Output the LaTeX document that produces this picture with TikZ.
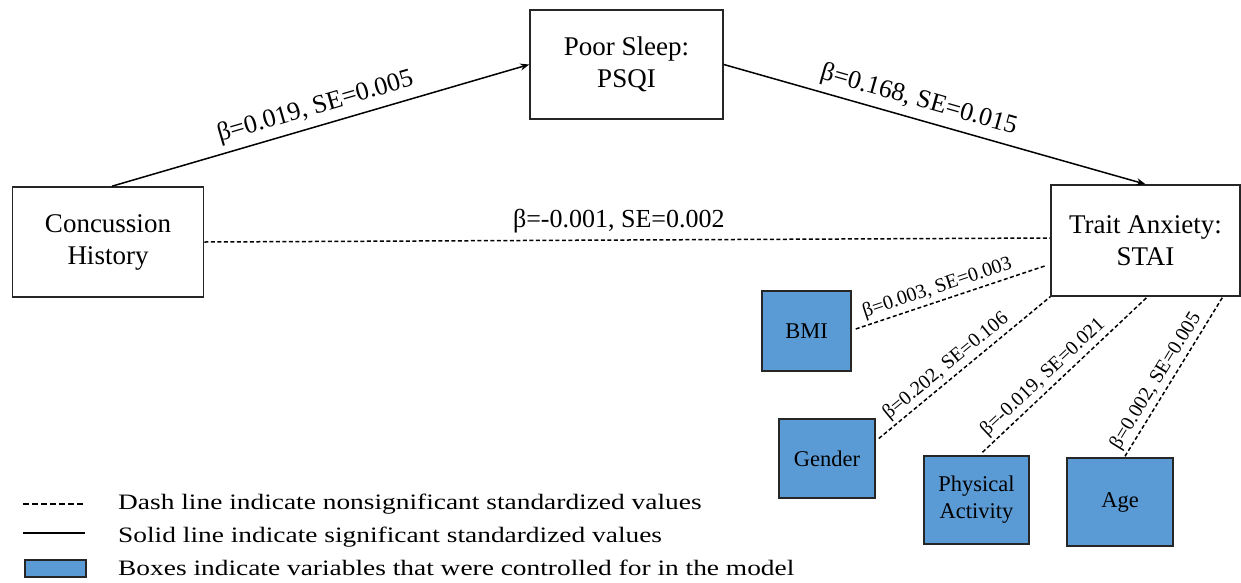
\documentclass[tikz,border=0pt]{standalone}
\usepackage{fontspec}
\setmainfont{Liberation Serif}
\newfontfamily\serfont{Liberation Serif}
\newfontfamily\legendfont[FakeStretch=1.245]{Liberation Serif}
\usetikzlibrary{arrows.meta}
\definecolor{covblue}{HTML}{5B9BD5}
\begin{document}
\begin{tikzpicture}[x=1pt,y=-1pt,
  mainbox/.style={draw=black!85, line width=1.6pt, fill=white, align=center,
    font=\serfont\fontsize{27}{32}\selectfont, inner sep=0pt},
  covbox/.style={draw=black!85, line width=1.5pt, fill=covblue, align=center,
    font=\serfont\fontsize{22.5}{27}\selectfont, inner sep=0pt},
  sigline/.style={line width=1.5pt, -{Stealth[length=9pt,width=7pt]}},
  nsline/.style={line width=1.5pt, dash pattern=on 4pt off 2.5pt},
  biglab/.style={font=\serfont\fontsize{26}{30}\selectfont, inner sep=2pt},
  smalllab/.style={font=\serfont\fontsize{20}{24}\selectfont, inner sep=1pt},
  legtext/.style={anchor=base west, inner sep=0pt, font=\legendfont\fontsize{22}{26}\selectfont}
]
\useasboundingbox (0,0) rectangle (1241,582);

% main boxes
\node[mainbox, minimum width=191pt, minimum height=110pt] (CH) at (108,242) {Concussion\\History};
\node[mainbox, minimum width=193pt, minimum height=109pt] (PS) at (626.5,64.5) {Poor Sleep:\\PSQI};
\node[mainbox, minimum width=189pt, minimum height=111pt] (TA) at (1145.5,240.5) {Trait Anxiety:\\STAI};

% covariate boxes
\node[covbox, minimum width=89pt, minimum height=80pt] (BMI) at (806.5,331) {BMI};
\node[covbox, minimum width=96pt, minimum height=79pt] (GEN) at (827,458.5) {Gender};
\node[covbox, minimum width=105pt, minimum height=88pt] (PA) at (976.5,500) {Physical\\Activity};
\node[covbox, minimum width=106pt, minimum height=88pt] (AGE) at (1120,502) {Age};

% main paths
\draw[sigline] ([shift={(4,0)}]CH.north) -- (PS.west)
  node[biglab, sloped, above=4pt, pos=0.5] {β=0.019, SE=0.005};
\draw[sigline] (PS.east) -- (TA.north)
  node[biglab, sloped, above=4pt, pos=0.45] {β=0.168, SE=0.015};
\draw[nsline] (CH.east) -- ([shift={(0,-2.5)}]TA.west)
  node[biglab, above=4pt, pos=0.49] {β=-0.001, SE=0.002};

% covariate paths
\draw[nsline] ([shift={(4,-2)}]BMI.east) -- ([shift={(-4,25)}]TA.west)
  node[smalllab, sloped, above=2pt, pos=0.45] {β=0.003, SE=0.003};
\draw[nsline] ([shift={(3,-20)}]GEN.east) -- (TA.south west)
  node[smalllab, sloped, above=2pt, pos=0.44] {β=0.202, SE=0.106};
\draw[nsline] ([shift={(6,-3)}]PA.north) -- ([shift={(2,0)}]TA.south)
  node[smalllab, sloped, above=2pt, pos=0.42] {β=-0.019, SE=0.021};
\draw[nsline] ([shift={(5,-1)}]AGE.north) -- ([shift={(-18,0)}]TA.south east)
  node[smalllab, sloped, above=2pt, pos=0.43] {β=0.002, SE=0.005};

% legend
\coordinate (d1) at (23,504);
\coordinate (d2) at (85,504);
\coordinate (s1) at (23,533);
\coordinate (s2) at (85,533);
\draw[line width=1.2pt, dash pattern=on 5.5pt off 3.5pt] (d1) -- (d2);
\draw[line width=1.4pt] (s1) -- (s2);
\node[draw=black!85, line width=1.4pt, fill=covblue, minimum width=61pt, minimum height=17pt, inner sep=0pt] (lbox) at (55.5,568.5) {};
\node[legtext] (t1) at (118,509) {Dash line indicate nonsignificant standardized values};
\node[legtext] (t2) at (118,542) {Solid line indicate significant standardized values};
\node[legtext] (t3) at (118,575) {Boxes indicate variables that were controlled for in the model};
\end{tikzpicture}
\end{document}
